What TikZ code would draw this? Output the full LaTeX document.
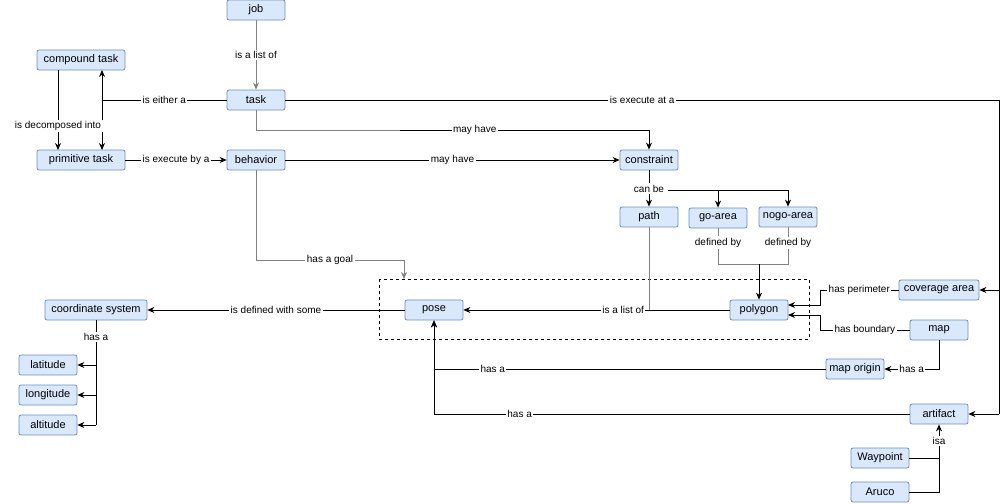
\documentclass[tikz,border=0pt]{standalone}
\usepackage{fontspec}
\setmainfont{Liberation Sans}
\usetikzlibrary{arrows.meta}
\definecolor{boxfill}{HTML}{DAE8FC}
\definecolor{boxline}{HTML}{6C8EBF}
\tikzset{
  concept/.style={draw=boxline, fill=boxfill, rounded corners=2pt, minimum height=20pt,
    minimum width=58pt, inner sep=1pt, font=\fontsize{11}{13}\selectfont},
  rel/.style={fill=white, inner sep=1.5pt, font=\fontsize{10}{12}\selectfont},
  link/.style={-{Stealth[length=7pt,width=6pt]}},
}
\begin{document}
\begin{tikzpicture}[x=1pt, y=-1pt, line width=0.8pt]
        \useasboundingbox (0,0) rectangle (1008,503);
        \draw[dashed, line width=0.6pt] (379,279) rectangle (809,339);
        \node[concept] (job) at (256,10) {job};
        \node[concept, minimum width=88pt] (compound) at (81,60) {compound task};
        \node[concept] (task) at (256,100) {task};
        \node[concept, minimum width=88pt] (primitive) at (81,160) {primitive task};
        \node[concept] (behavior) at (256,160) {behavior};
        \node[concept] (constraint) at (649,160) {constraint};
        \node[concept] (path) at (649,217) {path};
        \node[concept] (goarea) at (718,218) {go-area};
        \node[concept] (nogoarea) at (788,217) {nogo-area};
        \node[concept, minimum width=102pt] (coordsys) at (96,310) {coordinate system};
        \node[concept] (pose) at (434,310) {pose};
        \node[concept] (polygon) at (759,310) {polygon};
        \node[concept, minimum width=80pt] (coverage) at (939,290) {coverage area};
        \node[concept] (map) at (939,330) {map};
        \node[concept] (maporigin) at (855,369) {map origin};
        \node[concept] (artifact) at (939,414) {artifact};
        \node[concept] (waypoint) at (880,458) {Waypoint};
        \node[concept] (aruco) at (880,492) {Aruco};
        \node[concept] (latitude) at (48,365) {latitude};
        \node[concept] (longitude) at (48,395) {longitude};
        \node[concept] (altitude) at (48,425) {altitude};
        % task hierarchy
        \draw[link, gray] (job) -- node[rel, text=black] {is a list of} (task);
        \draw (task.west) -- node[rel] {is either a} (102,100);
        \draw[link] (102,100) -- (102,70);
        \draw[link] (102,100) -- (102,150);
        \draw[link] (58,70) -- node[rel, pos=0.7] {is decomposed into} (58,150);
        \draw[link] (primitive) -- node[rel] {is execute by a} (behavior);
        \draw (task.east) -- node[rel] {is execute at a} (999,100) -- (999,414);
        \draw[link] (999,290) -- (coverage.east);
        \draw[link] (999,414) -- (artifact.east);
        \draw[gray] (task.south) |- (400,130);
        \draw[link] (400,130) -- node[rel, pos=0.3] {may have} (649,130) -- (constraint.north);
        \draw[link] (behavior) -- node[rel] {may have} (constraint);
        % constraints
        \draw[link] (constraint) -- node[rel] {can be} (path);
        \draw[link] (668,190) -| (goarea.north);
        \draw[link] (668,190) -| (nogoarea.north);
        \draw[link, gray] (behavior.south) |- node[rel, pos=0.75, text=black] {has a goal} (404,260) -- (404,279);
        \draw[gray] (goarea.south) -- node[rel, text=black, pos=0.4] {defined by} (718,264) -- (759,264);
        \draw[gray] (nogoarea.south) -- node[rel, text=black, pos=0.43] {defined by} (788,264) -- (759,264);
        \draw[link] (759,264) -- (polygon.north);
        \draw[gray] (path.south) -- (649,310);
        \draw[link] (polygon) -- node[rel, pos=0.4] {is a list of} (pose);
        \draw[link] (pose) -- node[rel] {is defined with some} (coordsys);
        \draw[link] (coverage.west) -- node[rel] {has perimeter} (820,290) |- (788,305);
        \draw[link] (map.west) -- node[rel] {has boundary} (820,330) |- (788,315);
        % maps and artifacts
        \draw[link] (map.south) |- node[rel, pos=0.75] {has a} (maporigin.east);
        \draw[link] (maporigin.west) -- node[rel, pos=0.85] {has a} (434,369) -- (pose.south);
        \draw[link] (artifact.west) -- node[rel, pos=0.82] {has a} (434,414) -- (pose.south);
        \draw[link] (waypoint.east) -| node[rel, pos=0.75] {isa} (artifact.south);
        \draw (aruco.east) -| (939,458);
        \draw (coordsys.south) -- node[rel, pos=0.16] {has a} (96,425);
        \draw[link] (96,365) -- (latitude.east);
        \draw[link] (96,395) -- (longitude.east);
        \draw[link] (96,425) -- (altitude.east);
\end{tikzpicture}
\end{document}
